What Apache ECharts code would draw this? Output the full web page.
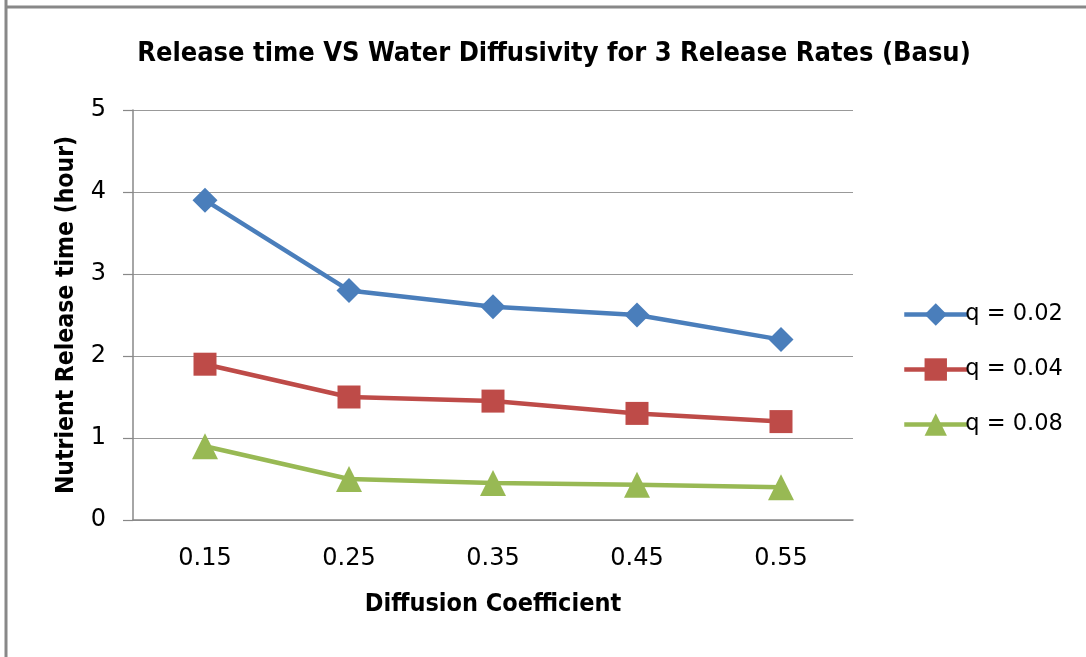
<!DOCTYPE html>
<html><head><meta charset="utf-8">
<script src="https://cdn.jsdelivr.net/npm/echarts@6/dist/echarts.min.js"></script>
<style>html,body{margin:0;padding:0;background:#fff}#c{width:1086px;height:657px}</style>
</head><body><div id="c"></div>
<script>
const categories = ['0.15','0.25','0.35','0.45','0.55'];
const q002 = [3.9, 2.8, 2.6, 2.5, 2.2];
const q004 = [1.9, 1.5, 1.45, 1.3, 1.2];
const q008 = [0.9, 0.5, 0.45, 0.43, 0.4];
const seriesNames = ['q = 0.02','q = 0.04','q = 0.08'];
const yTicks = [0,1,2,3,4,5];

const BOLD = '"DejaVu Sans Condensed","Liberation Sans",sans-serif';
const REG = '"DejaVu Sans","Liberation Sans",sans-serif';
const chart = echarts.init(document.getElementById('c'));
function s(name, data, color, symbol, size){
  return {name, type:'line', data, symbol, symbolSize:size,
    lineStyle:{color, width:4.5}, itemStyle:{color}, animation:false};
}
chart.setOption({
  animation:false,
  title:{text:'Release time VS Water Diffusivity for 3 Release Rates (Basu)', left:549, textAlign:'center', top:35,
    textStyle:{fontFamily:BOLD, fontSize:27, fontWeight:'bold', color:'#000'}},
  grid:{left:133, right:233, top:110, bottom:137},
  legend:{orient:'vertical', left:897, top:298, itemWidth:63, itemHeight:28, itemGap:32,
    lineStyle:{width:4.5},
    textStyle:{fontFamily:REG, fontSize:22.5, color:'#000', padding:[0,0,0,-7]},
    data:seriesNames},
  xAxis:{type:'category', data:categories, boundaryGap:true,
    axisLine:{lineStyle:{color:'#888', width:1.5}}, axisTick:{show:false},
    axisLabel:{fontFamily:REG, fontSize:24, color:'#000', margin:27},
    name:'Diffusion Coefficient', nameLocation:'middle', nameGap:72,
    nameTextStyle:{fontFamily:BOLD, fontSize:25, fontWeight:'bold', color:'#000'}},
  yAxis:{type:'value', min:yTicks[0], max:yTicks[yTicks.length-1], interval:1,
    axisLine:{show:true, lineStyle:{color:'#888', width:1.5}},
    axisTick:{show:true, length:10, lineStyle:{color:'#888', width:1.2}},
    splitLine:{lineStyle:{color:'#999', width:1.2}},
    axisLabel:{fontFamily:REG, fontSize:24, color:'#000', margin:27},
    name:'Nutrient Release time (hour)', nameLocation:'middle', nameGap:54,
    nameTextStyle:{fontFamily:BOLD, fontSize:24.5, fontWeight:'bold', color:'#000'}},
  series:[
    s(seriesNames[0], q002, '#4a7ebb', 'diamond', 25),
    s(seriesNames[1], q004, '#be4b48', 'rect', 23),
    s(seriesNames[2], q008, '#98b954', 'triangle', 26)
  ],
  graphic:[
    {type:'line', shape:{x1:6, y1:0, x2:6, y2:657}, style:{stroke:'#888', lineWidth:3}},
    {type:'line', shape:{x1:5, y1:7, x2:1086, y2:7}, style:{stroke:'#888', lineWidth:3}}
  ]
});
</script></body></html>
